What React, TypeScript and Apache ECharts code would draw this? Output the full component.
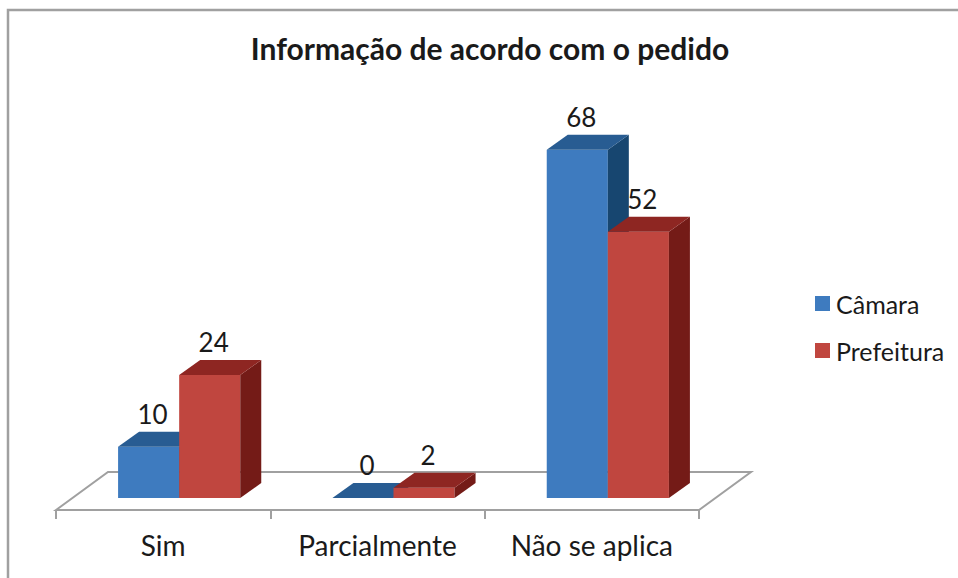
import React, { useEffect, useRef } from "react";
import * as echarts from "echarts";

const CATEGORIES = ["Sim", "Parcialmente", "Não se aplica"];
const SERIES_NAMES = ["Câmara", "Prefeitura"];
const CAMARA = [10, 0, 68];
const PREFEITURA = [24, 2, 52];
const Y_MAX = 80;

const COLORS = [
  { front: "#3e7bbf", top: "#285c92", side: "#174670" },
  { front: "#c0463f", top: "#8e2622", side: "#741b17" },
];

// layout
const FLOOR_LEFT = 56;
const FLOOR_WIDTH = 643;
const FLOOR_FRONT_Y = 510;
const FLOOR_DX = 52;
const FLOOR_DY = -38;
const PLANE_DX = 16;
const PLANE_DY = -12;
const PX_PER_UNIT = 5.12;
const BAR_DX = 21;
const BAR_DY = -15;
const BAR_FRAC = 0.285;
const FONT = "Lato, 'Noto Sans', sans-serif";

export default function App() {
  const ref = useRef<HTMLDivElement>(null);
  useEffect(() => {
    document.body.style.margin = "0";
    const chart = echarts.init(ref.current!, null, { renderer: "svg" });
    const zeroY = FLOOR_FRONT_Y + PLANE_DY;
    const barsHeight = Y_MAX * PX_PER_UNIT;

    const makeSeries = (idx: number, values: number[]) => ({
      type: "custom",
      name: SERIES_NAMES[idx],
      xAxisIndex: 0,
      yAxisIndex: 0,
      itemStyle: { color: COLORS[idx].front },
      data: values.map((v, i) => [i, v]),
      encode: { x: 0, y: 1 },
      renderItem: (params: any, api: any) => {
        const cat = api.value(0);
        const v = api.value(1);
        const base = api.coord([cat, 0]);
        const top = api.coord([cat, v]);
        const catW = api.size([1, 0])[0];
        const bw = catW * BAR_FRAC;
        const x0 = idx === 0 ? base[0] - bw : base[0];
        const x1 = x0 + bw;
        const yb = base[1];
        const yt = top[1];
        const c = COLORS[idx];
        const children: any[] = [];
        if (yb - yt > 0.5) {
          children.push({
            type: "rect",
            shape: { x: x0, y: yt, width: bw, height: yb - yt },
            style: { fill: c.front },
          });
          children.push({
            type: "polygon",
            shape: {
              points: [
                [x1, yt],
                [x1 + BAR_DX, yt + BAR_DY],
                [x1 + BAR_DX, yb + BAR_DY],
                [x1, yb],
              ],
            },
            style: { fill: c.side },
          });
        }
        children.push({
          type: "polygon",
          shape: {
            points: [
              [x0, yt],
              [x0 + BAR_DX, yt + BAR_DY],
              [x1 + BAR_DX, yt + BAR_DY],
              [x1, yt],
            ],
          },
          style: { fill: c.top },
        });
        children.push({
          type: "text",
          style: {
            text: String(v),
            x: (x0 + x1) / 2 + 4,
            y: yt - 33,
            align: "center",
            verticalAlign: "middle",
            fill: "#1a1a1a",
            font: `26px ${FONT}`,
          },
        });
        return { type: "group", children };
      },
    });

    const fl = FLOOR_LEFT;
    const fr = FLOOR_LEFT + FLOOR_WIDTH;
    const fy = FLOOR_FRONT_Y;

    chart.setOption({
      animation: false,
      title: {
        text: "Informação de acordo com o pedido",
        left: 485,
        textAlign: "center",
        top: 28,
        textStyle: { fontFamily: FONT, fontSize: 30, fontWeight: "bold", color: "#1a1a1a" },
      },
      legend: {
        orient: "vertical",
        left: 810,
        top: 286,
        icon: "rect",
        itemWidth: 15,
        itemHeight: 15,
        itemGap: 22,
        data: SERIES_NAMES,
        textStyle: { fontFamily: FONT, fontSize: 25, lineHeight: 25, color: "#1a1a1a", padding: [0, 0, 0, 1] },
      },
      grid: [
        { left: fl + PLANE_DX, width: FLOOR_WIDTH, top: zeroY - barsHeight, height: barsHeight },
        { left: fl, width: FLOOR_WIDTH, top: fy - 400, height: 400 },
      ],
      xAxis: [
        {
          type: "category",
          gridIndex: 0,
          data: CATEGORIES,
          show: false,
        },
        {
          type: "category",
          gridIndex: 1,
          data: CATEGORIES,
          axisLine: { show: false },
          axisTick: { show: true, length: 9, lineStyle: { color: "#a0a0a0", width: 2 } },
          axisLabel: { fontFamily: FONT, fontSize: 28, color: "#1a1a1a", margin: 21 },
        },
      ],
      yAxis: [
        { type: "value", gridIndex: 0, min: 0, max: Y_MAX, show: false },
        { type: "value", gridIndex: 1, min: 0, max: 1, show: false },
      ],
      graphic: [
        {
          type: "rect",
          z: 0,
          shape: { x: 8, y: 10, width: 1100, height: 1100 },
          style: { fill: "none", stroke: "#a0a0a0", lineWidth: 2.5 },
        },
        {
          type: "polygon",
          z: 0,
          shape: {
            points: [
              [fl, fy],
              [fl + FLOOR_DX, fy + FLOOR_DY],
              [fr + FLOOR_DX, fy + FLOOR_DY],
              [fr, fy],
            ],
          },
          style: { fill: "none", stroke: "#a0a0a0", lineWidth: 2 },
        },
      ],
      series: [makeSeries(0, CAMARA), makeSeries(1, PREFEITURA)],
    });
    return () => chart.dispose();
  }, []);
  return <div ref={ref} style={{ width: 958, height: 578 }} />;
}
